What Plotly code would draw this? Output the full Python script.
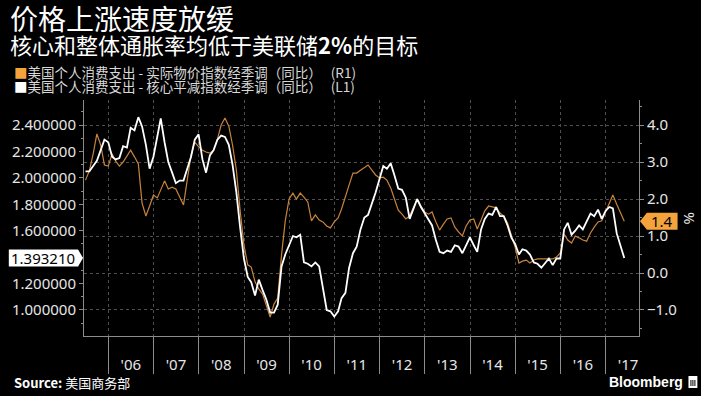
import pandas as pd
import plotly.graph_objects as go

# ---------------- data ----------------
dates = pd.date_range("2005-06-30", periods=144, freq="ME")

# 美国个人消费支出 - 核心平减指数经季调（同比） (L1, left axis, white)
core_pce = [
    2.05, 2.05, 2.09, 2.13, 2.21, 2.29, 2.27, 2.16, 2.14, 2.15, 2.24, 2.23,
    2.38, 2.36, 2.46, 2.39, 2.25, 2.07, 2.16, 2.32, 2.45, 2.27, 2.12, 2.04,
    1.96, 1.98, 1.98, 2.07, 2.16, 2.29, 2.33, 2.14, 2.04, 2.17, 2.21, 2.29,
    2.32, 2.31, 2.25, 2.10, 1.89, 1.63, 1.39, 1.25, 1.21, 1.11, 1.23, 1.15,
    1.08, 0.98, 0.98, 1.04, 1.33, 1.42, 1.49, 1.56, 1.55, 1.57, 1.36, 1.35,
    1.33, 1.36, 1.33, 1.17, 1.00, 0.99, 0.95, 0.99, 1.09, 1.13, 1.32, 1.43,
    1.48, 1.61, 1.70, 1.72, 1.80, 1.89, 1.99, 2.09, 2.07, 2.11, 2.02, 1.92,
    1.91, 1.85, 1.69, 1.77, 1.84, 1.78, 1.73, 1.69, 1.64, 1.53, 1.44, 1.43,
    1.45, 1.44, 1.49, 1.48, 1.43, 1.49, 1.55, 1.49, 1.44, 1.61, 1.69, 1.73,
    1.72, 1.78, 1.71, 1.71, 1.64, 1.55, 1.50, 1.42, 1.46, 1.45, 1.42, 1.36,
    1.35, 1.32, 1.36, 1.39, 1.34, 1.39, 1.39, 1.61, 1.66, 1.57, 1.60, 1.64,
    1.61, 1.67, 1.73, 1.71, 1.76, 1.69, 1.75, 1.78, 1.77, 1.58, 1.49, 1.393210,
]

# 美国个人消费支出 - 实际物价指数经季调（同比） (R1, right axis, orange)
pce = [
    2.51, 2.76, 3.22, 3.76, 3.46, 2.92, 2.89, 3.22, 3.03, 2.89, 3.00, 3.16,
    3.32, 3.14, 2.95, 1.89, 1.54, 1.81, 2.11, 2.03, 2.27, 2.49, 2.27, 2.32,
    2.27, 2.03, 1.84, 2.51, 3.19, 3.54, 3.41, 3.32, 3.27, 3.24, 3.32, 3.62,
    4.00, 4.19, 3.97, 3.46, 2.78, 1.70, 0.76, 0.22, 0.16, -0.24, -0.43, -0.57,
    -0.86, -1.19, -0.84, -0.68, 0.49, 1.41, 2.00, 2.16, 2.00, 2.16, 2.05, 1.92,
    1.41, 1.57, 1.43, 1.38, 1.27, 1.22, 1.38, 1.49, 1.73, 2.03, 2.38, 2.70,
    2.70, 2.78, 2.86, 2.92, 2.78, 2.65, 2.57, 2.59, 2.51, 2.30, 2.00, 1.70,
    1.59, 1.46, 1.54, 1.78, 2.00, 1.81, 1.65, 1.59, 1.65, 1.38, 1.16, 1.32,
    1.46, 1.49, 1.24, 1.11, 1.00, 1.27, 1.43, 1.46, 1.19, 1.43, 1.68, 1.81,
    1.78, 1.76, 1.62, 1.54, 1.35, 1.03, 0.70, 0.27, 0.32, 0.35, 0.27, 0.35,
    0.38, 0.38, 0.38, 0.38, 0.38, 0.43, 0.54, 1.05, 0.89, 0.81, 1.00, 0.95,
    0.89, 0.86, 1.08, 1.24, 1.38, 1.41, 1.65, 1.86, 2.11, 1.86, 1.65, 1.40,
]

year_labels = ["'06", "'07", "'08", "'09", "'10", "'11", "'12", "'13", "'14", "'15", "'16", "'17"]
year_label_pos = [f"{2006 + i}-07-01" for i in range(len(year_labels))]
left_ticks = [1.0, 1.2, 1.6, 1.8, 2.0, 2.2, 2.4]

# ---------------- layout geometry ----------------
W, H = 701, 396
ML, MR, MT, MB = 78, 62, 100, 60
PW, PH = W - ML - MR, H - MT - MB


def px(x):
    return (x - ML) / PW


def py(y):
    return (H - MB - y) / PH


L_RANGE = [0.803, 2.590]
R_RANGE = [-1.703, 4.676]
X_RANGE = ["2005-06-18", "2017-09-27"]

ORANGE_LINE = "#c8843c"
ORANGE = "#f5a33c"
GRID = "#4f4f4f"
AXIS = "#8c8c8c"
TXT = "#e6e6e6"
CJK = "Noto Sans CJK SC"
NUM = "Noto Sans"

fig = go.Figure()
fig.add_trace(go.Scatter(x=dates, y=pce, mode="lines", yaxis="y",
                         line=dict(color=ORANGE_LINE, width=1.2), hoverinfo="skip"))
fig.add_trace(go.Scatter(x=dates, y=core_pce, mode="lines", yaxis="y2",
                         line=dict(color="#ffffff", width=1.8), hoverinfo="skip"))

fig.update_layout(
    width=W, height=H,
    margin=dict(l=ML, r=MR, t=MT, b=MB, pad=0),
    paper_bgcolor="#000000", plot_bgcolor="#000000",
    showlegend=False,
    xaxis=dict(
        type="date", range=X_RANGE,
        tickmode="array", tickvals=year_label_pos, ticktext=year_labels,
        ticks="", showgrid=False, zeroline=False,
        showline=True, linecolor=AXIS, linewidth=1,
        tickfont=dict(family=NUM, size=15, color=TXT),
        ticklabelstandoff=15,
        minor=dict(dtick="M12", tick0="2006-01-01", ticks="outside", ticklen=37,
                   tickcolor=AXIS, tickwidth=1, showgrid=True, gridcolor=GRID,
                   griddash="dot", gridwidth=1),
    ),
    yaxis=dict(
        side="right", range=R_RANGE, tickmode="linear", dtick=1, tick0=0,
        tickformat=".1f", ticks="outside", ticklen=4, tickcolor=AXIS,
        showline=True, linecolor=AXIS, linewidth=1,
        showgrid=True, gridcolor=GRID, griddash="dot", gridwidth=1, zeroline=False,
        tickfont=dict(family=NUM, size=15, color=TXT),
        minor=dict(dtick=0.5, tick0=0, ticks="outside", ticklen=2, tickcolor=AXIS),
    ),
    yaxis2=dict(
        overlaying="y", side="left", range=L_RANGE,
        tickmode="array", tickvals=left_ticks, tickformat=".6f",
        ticks="outside", ticklen=4, tickcolor=AXIS,
        showline=True, linecolor=AXIS, linewidth=1,
        showgrid=False, zeroline=False,
        tickfont=dict(family=NUM, size=15, color=TXT),
        minor=dict(dtick=0.1, tick0=0, ticks="outside", ticklen=2, tickcolor=AXIS),
    ),
)

ann = []
ann.append(dict(text="价格上涨速度放缓", x=px(1), y=py(18), xanchor="left", yanchor="middle",
                font=dict(family=CJK, size=28, color="#ffffff")))
ann.append(dict(text="核心和整体通胀率均低于美联储<b>2%</b>的目标", x=px(1), y=py(44),
                xanchor="left", yanchor="middle",
                font=dict(family=CJK, size=22, color="#ffffff")))
ann.append(dict(text=f"<span style='color:{ORANGE}'>■</span>美国个人消费支出 - 实际物价指数经季调（同比）   (R1)",
                x=px(5), y=py(72), xanchor="left", yanchor="middle",
                font=dict(family=CJK, size=13.5, color="#d9d9d9")))
ann.append(dict(text="<span style='color:#ffffff'>■</span>美国个人消费支出 - 核心平减指数经季调（同比）   (L1)",
                x=px(5), y=py(86), xanchor="left", yanchor="middle",
                font=dict(family=CJK, size=13.5, color="#d9d9d9")))
ann.append(dict(text="%", x=px(689), y=py(218), xanchor="center", yanchor="middle",
                textangle=-90, font=dict(family=NUM, size=15, color=TXT)))
ann.append(dict(text="<b>Source:</b> 美国商务部", x=px(5), y=py(382), xanchor="left", yanchor="middle",
                font=dict(family=CJK, size=13, color="#ffffff")))
ann.append(dict(text="<b>Bloomberg</b>", x=px(686), y=py(382), xanchor="right", yanchor="middle",
                font=dict(family="Liberation Sans", size=14, color="#ffffff")))

# last-value boxes
lv = core_pce[-1]
yl = (lv - L_RANGE[0]) / (L_RANGE[1] - L_RANGE[0])
hh = 8.5 / PH
shapes = []
shapes.append(dict(type="path", xref="paper", yref="paper", layer="above",
                   path=(f"M {px(2)},{yl - hh} L {px(72)},{yl - hh} L {px(77)},{yl} "
                         f"L {px(72)},{yl + hh} L {px(2)},{yl + hh} Z"),
                   fillcolor="#ffffff", line=dict(width=0)))
ann.append(dict(text=f"{lv:.6f}", x=px(37), y=yl, xanchor="center", yanchor="middle",
                font=dict(family=NUM, size=15, color="#000000")))

rv = pce[-1]
yr = (rv - R_RANGE[0]) / (R_RANGE[1] - R_RANGE[0])
shapes.append(dict(type="path", xref="paper", yref="paper", layer="above",
                   path=(f"M {px(640)},{yr} L {px(647)},{yr - hh} L {px(678)},{yr - hh} "
                         f"L {px(678)},{yr + hh} L {px(647)},{yr + hh} Z"),
                   fillcolor=ORANGE, line=dict(width=0)))
ann.append(dict(text=f"{rv:.1f}", x=px(662), y=yr, xanchor="center", yanchor="middle",
                font=dict(family=NUM, size=15, color="#000000")))

# Bloomberg logo mark
shapes.append(dict(type="rect", xref="paper", yref="paper", layer="above",
                   x0=px(689), x1=px(698), y0=py(388), y1=py(376),
                   fillcolor="#ffffff", line=dict(width=0)))
for bx in (691.5, 693.5, 695.5):
    shapes.append(dict(type="line", xref="paper", yref="paper", layer="above",
                       x0=px(bx), x1=px(bx), y0=py(386), y1=py(380),
                       line=dict(color="#000000", width=1)))

for a in ann:
    a.update(xref="paper", yref="paper", showarrow=False)
fig.update_layout(annotations=ann, shapes=shapes)

fig.write_html(
    "out.html",
    config={"displayModeBar": False},
    post_script="document.body.style.margin='0';document.body.style.padding='0';"
                "document.body.style.background='#000';document.body.style.overflow='hidden';",
)
